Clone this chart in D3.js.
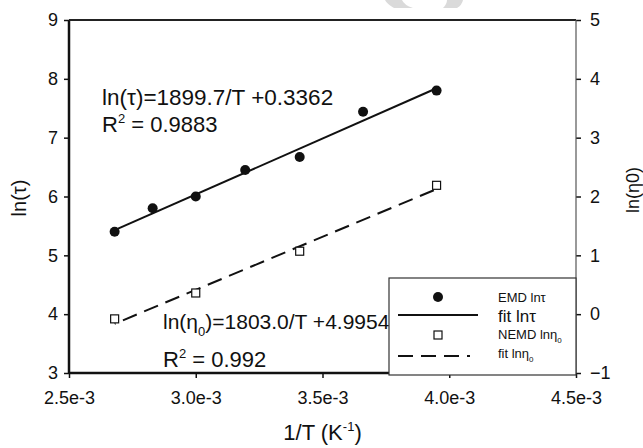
<!DOCTYPE html>
<meta charset="utf-8">
<style>
    body { margin: 0; background: #fff; }
    svg text { font-family: Arial, "Liberation Sans", sans-serif; fill: #111; }
    .axis path.domain { display: none; }
    .axis line { stroke: #111; stroke-width: 1.5; }
    .axis text { font-size: 18px; }
</style>
<body>
<div id="chart"></div>
<script src="https://d3js.org/d3.v7.min.js"></script>
<script>

    // data
    var invT_emd = [2.68e-3, 2.83e-3, 3.00e-3, 3.195e-3, 3.41e-3, 3.66e-3, 3.95e-3];
    var lnTau = [5.40, 5.80, 6.00, 6.45, 6.67, 7.44, 7.80];

    var invT_nemd = [2.68e-3, 3.00e-3, 3.41e-3, 3.95e-3];
    var lnEta = [-0.08, 0.36, 1.07, 2.19];

    // fits (slope, intercept) and the x span they are drawn over
    var fitTau = { slope: 1899.7, intercept: 0.3362 };
    var fitEta = { slope: 1803.0, intercept: -4.9954 };
    var fitRange = [2.68e-3, 3.95e-3];

    // ticks
    var xTicks = [2.5e-3, 3.0e-3, 3.5e-3, 4.0e-3, 4.5e-3];
    var xTickLabels = ["2.5e-3", "3.0e-3", "3.5e-3", "4.0e-3", "4.5e-3"];
    var yLeftTicks = [3, 4, 5, 6, 7, 8, 9];
    var yRightTicks = [-1, 0, 1, 2, 3, 4, 5];

    // dims
    var svg_dx = 643, svg_dy = 448;
    var margin = { top: 20, right: 67, bottom: 75, left: 69 };
    var plot_x0 = margin.left, plot_x1 = svg_dx - margin.right,
        plot_y0 = margin.top, plot_y1 = svg_dy - margin.bottom;

    var x = d3.scaleLinear().domain([2.5e-3, 4.5e-3]).range([plot_x0, plot_x1]),
        yL = d3.scaleLinear().domain([3, 9]).range([plot_y1, plot_y0]),
        yR = d3.scaleLinear().domain([-1, 5]).range([plot_y1, plot_y0]);

    var svg = d3.select("#chart")
        .append("svg")
        .attr("width", svg_dx)
        .attr("height", svg_dy);

    // faint watermark remnant at the top edge
    svg.append("path")
        .attr("d", "M385,0 L402,0 Q404,5 413,8 L394,8 Q387,4 385,0 Z M447,0 L463,0 Q462,5 457,8 L443,8 Q447,4 447,0 Z")
        .attr("fill", "#dadada");

    // axes
    svg.append("g")
        .attr("class", "axis")
        .attr("transform", "translate(" + plot_x0 + ",0)")
        .call(d3.axisLeft(yL).tickValues(yLeftTicks).tickSize(5).tickPadding(6).tickFormat(d3.format("d")));

    svg.append("g")
        .attr("class", "axis")
        .attr("transform", "translate(0," + plot_y1 + ")")
        .call(d3.axisBottom(x).tickValues(xTicks).tickSize(5).tickPadding(13)
            .tickFormat(function(d, i) { return xTickLabels[i]; }));

    svg.append("g")
        .attr("class", "axis")
        .attr("transform", "translate(" + plot_x1 + ",0)")
        .call(d3.axisRight(yR).tickValues(yRightTicks).tickSize(5).tickPadding(9).tickFormat(d3.format("d")));

    // frame: heavy left/bottom/top, thin right
    svg.append("line")
        .attr("x1", plot_x0).attr("x2", plot_x0).attr("y1", plot_y0).attr("y2", plot_y1 + 1)
        .attr("stroke", "#111").attr("stroke-width", 2.5);
    svg.append("line")
        .attr("x1", plot_x0).attr("x2", plot_x1).attr("y1", plot_y1).attr("y2", plot_y1)
        .attr("stroke", "#111").attr("stroke-width", 2.5);
    svg.append("line")
        .attr("x1", plot_x0).attr("x2", plot_x1).attr("y1", plot_y0).attr("y2", plot_y0)
        .attr("stroke", "#222").attr("stroke-width", 2);
    svg.append("line")
        .attr("x1", plot_x1).attr("x2", plot_x1).attr("y1", plot_y0).attr("y2", plot_y1)
        .attr("stroke", "#555").attr("stroke-width", 1.2);

    // fit lines
    var tauLine = d3.line()
        .x(function(d) { return x(d); })
        .y(function(d) { return yL(fitTau.slope * d + fitTau.intercept); });

    var etaLine = d3.line()
        .x(function(d) { return x(d); })
        .y(function(d) { return yR(fitEta.slope * d + fitEta.intercept); });

    svg.append("path")
        .attr("d", tauLine(fitRange))
        .attr("fill", "none")
        .attr("stroke", "#111")
        .attr("stroke-width", 2);

    svg.append("path")
        .attr("d", etaLine(fitRange))
        .attr("fill", "none")
        .attr("stroke", "#111")
        .attr("stroke-width", 2)
        .attr("stroke-dasharray", "15,8")
        .attr("stroke-dashoffset", -9);

    // points
    svg.append("g").selectAll("circle")
        .data(invT_emd)
        .enter()
        .append("circle")
        .attr("cx", function(d) { return x(d); })
        .attr("cy", function(d, i) { return yL(lnTau[i]); })
        .attr("r", 5)
        .attr("fill", "#111");

    var sq = 8;
    svg.append("g").selectAll("rect")
        .data(invT_nemd)
        .enter()
        .append("rect")
        .attr("x", function(d) { return x(d) - sq / 2; })
        .attr("y", function(d, i) { return yR(lnEta[i]) - sq / 2; })
        .attr("width", sq)
        .attr("height", sq)
        .attr("fill", "#fff")
        .attr("stroke", "#111")
        .attr("stroke-width", 1.2);

    // equations
    var eq1 = svg.append("text").attr("x", 102).attr("y", 105).style("font-size", "22.5px");
    eq1.append("tspan").text("ln(τ)=1899.7/T +0.3362");

    var r1 = svg.append("text").attr("x", 102).attr("y", 132).style("font-size", "22px");
    r1.append("tspan").text("R");
    r1.append("tspan").attr("dy", -9).style("font-size", "13px").text("2");
    r1.append("tspan").attr("dy", 9).text(" = 0.9883");

    var eq2 = svg.append("text").attr("x", 163).attr("y", 329).style("font-size", "21px");
    eq2.append("tspan").text("ln(η");
    eq2.append("tspan").attr("dy", 7).style("font-size", "13px").text("0");
    eq2.append("tspan").attr("dy", -7).text(")=1803.0/T +4.9954");

    var r2 = svg.append("text").attr("x", 163).attr("y", 367).style("font-size", "22px");
    r2.append("tspan").text("R");
    r2.append("tspan").attr("dy", -9).style("font-size", "13px").text("2");
    r2.append("tspan").attr("dy", 9).text(" = 0.992");

    // axis titles
    var xt = svg.append("text")
        .attr("x", (plot_x0 + plot_x1) / 2)
        .attr("y", 440)
        .attr("text-anchor", "middle")
        .style("font-size", "22px");
    xt.append("tspan").text("1/T (K");
    xt.append("tspan").attr("dy", -9).style("font-size", "13px").text("-1");
    xt.append("tspan").attr("dy", 9).text(")");

    svg.append("text")
        .attr("transform", "translate(26,198) rotate(-90)")
        .attr("text-anchor", "middle")
        .style("font-size", "20px")
        .text("ln(τ)");

    svg.append("text")
        .attr("transform", "translate(639,190) rotate(-90)")
        .attr("text-anchor", "middle")
        .style("font-size", "18px")
        .text("ln(η0)");

    // legend
    var lg = svg.append("g");
    lg.append("rect")
        .attr("x", 389).attr("y", 278)
        .attr("width", plot_x1 - 389).attr("height", 97)
        .attr("fill", "#fff")
        .attr("stroke", "#333")
        .attr("stroke-width", 1.2);

    lg.append("circle").attr("cx", 438).attr("cy", 297).attr("r", 5).attr("fill", "#111");
    lg.append("line").attr("x1", 398).attr("x2", 478).attr("y1", 315).attr("y2", 315)
        .attr("stroke", "#111").attr("stroke-width", 2);
    lg.append("rect").attr("x", 434).attr("y", 331).attr("width", 8).attr("height", 8)
        .attr("fill", "#fff").attr("stroke", "#111").attr("stroke-width", 1.2);
    lg.append("line").attr("x1", 398).attr("x2", 470).attr("y1", 356).attr("y2", 356)
        .attr("stroke", "#111").attr("stroke-width", 2).attr("stroke-dasharray", "15,8");

    lg.append("text").attr("x", 498).attr("y", 302).style("font-size", "13px").text("EMD lnτ");
    lg.append("text").attr("x", 498).attr("y", 322).style("font-size", "17px").text("fit lnτ");

    var l3 = lg.append("text").attr("x", 498).attr("y", 339).style("font-size", "13px");
    l3.append("tspan").text("NEMD lnη");
    l3.append("tspan").attr("dy", 4).style("font-size", "8px").text("0");

    var l4 = lg.append("text").attr("x", 498).attr("y", 358).style("font-size", "13px");
    l4.append("tspan").text("fit lnη");
    l4.append("tspan").attr("dy", 4).style("font-size", "8px").text("0");

</script>
</body>
